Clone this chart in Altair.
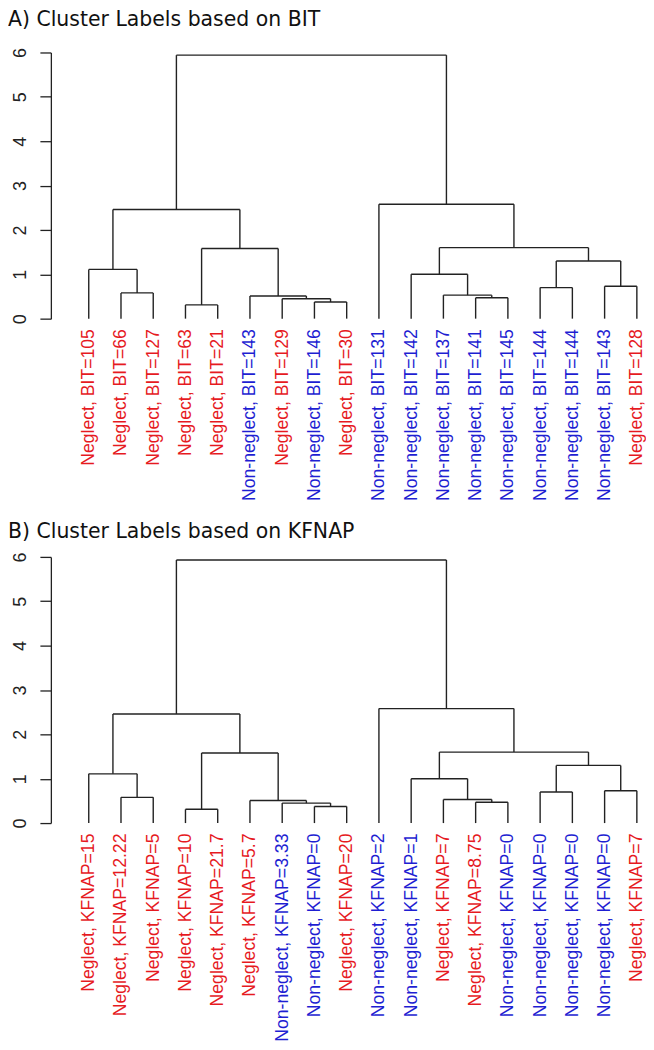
import json
import altair as alt
import pandas as pd

# ---------------- data ----------------
leaf_labels_A = [
    "Neglect, BIT=105", "Neglect, BIT=66", "Neglect, BIT=127", "Neglect, BIT=63",
    "Neglect, BIT=21", "Non-neglect, BIT=143", "Neglect, BIT=129", "Non-neglect, BIT=146",
    "Neglect, BIT=30", "Non-neglect, BIT=131", "Non-neglect, BIT=142", "Non-neglect, BIT=137",
    "Non-neglect, BIT=141", "Non-neglect, BIT=145", "Non-neglect, BIT=144", "Non-neglect, BIT=144",
    "Non-neglect, BIT=143", "Neglect, BIT=128",
]
leaf_labels_B = [
    "Neglect, KFNAP=15", "Neglect, KFNAP=12.22", "Neglect, KFNAP=5", "Neglect, KFNAP=10",
    "Neglect, KFNAP=21.7", "Neglect, KFNAP=5.7", "Non-neglect, KFNAP=3.33", "Non-neglect, KFNAP=0",
    "Neglect, KFNAP=20", "Non-neglect, KFNAP=2", "Non-neglect, KFNAP=1", "Neglect, KFNAP=7",
    "Neglect, KFNAP=8.75", "Non-neglect, KFNAP=0", "Non-neglect, KFNAP=0", "Non-neglect, KFNAP=0",
    "Non-neglect, KFNAP=0", "Neglect, KFNAP=7",
]
# hclust-style merge table: negative = leaf (position in plot order), positive = earlier merge
merge_left = [-4, -8, -7, -13, -6, -12, -2, -15, -17, -11, -1, 8, 1, 10, 11, -10, 15]
merge_right = [-5, -9, 2, -14, 3, 4, -3, -16, -18, 6, 7, 9, 5, 12, 13, 14, 16]
merge_height_A = [0.31, 0.375, 0.45, 0.47, 0.51, 0.53, 0.58, 0.70, 0.73, 1.00,
                  1.11, 1.30, 1.58, 1.60, 2.46, 2.58, 5.94]
merge_height_B = [0.31, 0.375, 0.45, 0.47, 0.51, 0.53, 0.58, 0.70, 0.73, 1.00,
                  1.11, 1.30, 1.58, 1.60, 2.46, 2.58, 5.93]
y_ticks = [0, 1, 2, 3, 4, 5, 6]

RED = "#e61a1f"
BLUE = "#1e1ed2"
INK = "#222222"


def segments(heights):
    pos, hgt, rows = {}, {}, []

    def child(c):
        if c < 0:
            return float(-c), 0.0
        return pos[c], hgt[c]

    for i, (l, r, h) in enumerate(zip(merge_left, merge_right, heights), start=1):
        xl, hl = child(l)
        xr, hr = child(r)
        rows.append({"x": xl, "x2": xl, "y": hl, "y2": h})
        rows.append({"x": xr, "x2": xr, "y": hr, "y2": h})
        rows.append({"x": xl, "x2": xr, "y": h, "y2": h})
        pos[i] = (xl + xr) / 2
        hgt[i] = h
    return pd.DataFrame(rows)


def panel(labels, heights, title, title_offset):
    n = len(labels)
    non_idx = [i + 1 for i, s in enumerate(labels) if s.startswith("Non")]
    label_expr = json.dumps(labels) + "[datum.value - 1]"
    color_test = "indexof(" + json.dumps(non_idx) + ", datum.value) >= 0"
    return alt.Chart(segments(heights)).mark_rule(color=INK, strokeWidth=1.4).encode(
        x=alt.X(
            "x:Q",
            scale=alt.Scale(domain=[-0.175, n + 0.16], nice=False, zero=False),
            axis=alt.Axis(
                values=list(range(1, n + 1)),
                labelExpr=label_expr,
                labelAngle=270,
                labelAlign="right",
                labelBaseline="middle",
                labelColor={"condition": {"test": color_test, "value": BLUE}, "value": RED},
                labelFont="Liberation Sans",
                labelFontSize=17.7,
                labelPadding=10,
                labelLimit=500,
                labelOverlap=False,
                labelFlush=False,
                domain=False,
                ticks=False,
                tickSize=0,
                grid=False,
                title=None,
            ),
        ),
        x2="x2:Q",
        y=alt.Y(
            "y:Q",
            scale=alt.Scale(domain=[0, 6], nice=False, zero=False),
            axis=alt.Axis(
                values=y_ticks,
                labelAngle=270,
                labelAlign="center",
                labelBaseline="alphabetic",
                labelFont="Liberation Sans",
                labelFontSize=18,
                labelColor=INK,
                labelPadding=14,
                tickSize=11,
                tickColor=INK,
                tickWidth=1.3,
                domainColor=INK,
                domainWidth=1.3,
                grid=False,
                title=None,
            ),
        ),
        y2="y2:Q",
    ).properties(
        width=593,
        height=267,
        title=alt.TitleParams(
            text=title,
            anchor="start",
            frame="bounds",
            font="DejaVu Sans",
            fontSize=20.5,
            fontWeight="normal",
            color="#111111",
            baseline="alphabetic",
            offset=title_offset,
            dx=-4,
        ),
    )


chart = alt.vconcat(
    panel(leaf_labels_A, merge_height_A, "A) Cluster Labels based on BIT", 1),
    panel(leaf_labels_B, merge_height_B, "B) Cluster Labels based on KFNAP", -7),
    spacing=21,
).properties(
    padding={"top": 0, "left": 0, "right": 0, "bottom": 0},
    background="white",
).configure_view(stroke=None)

chart.save("out.html", embed_options={"renderer": "svg", "actions": False})
